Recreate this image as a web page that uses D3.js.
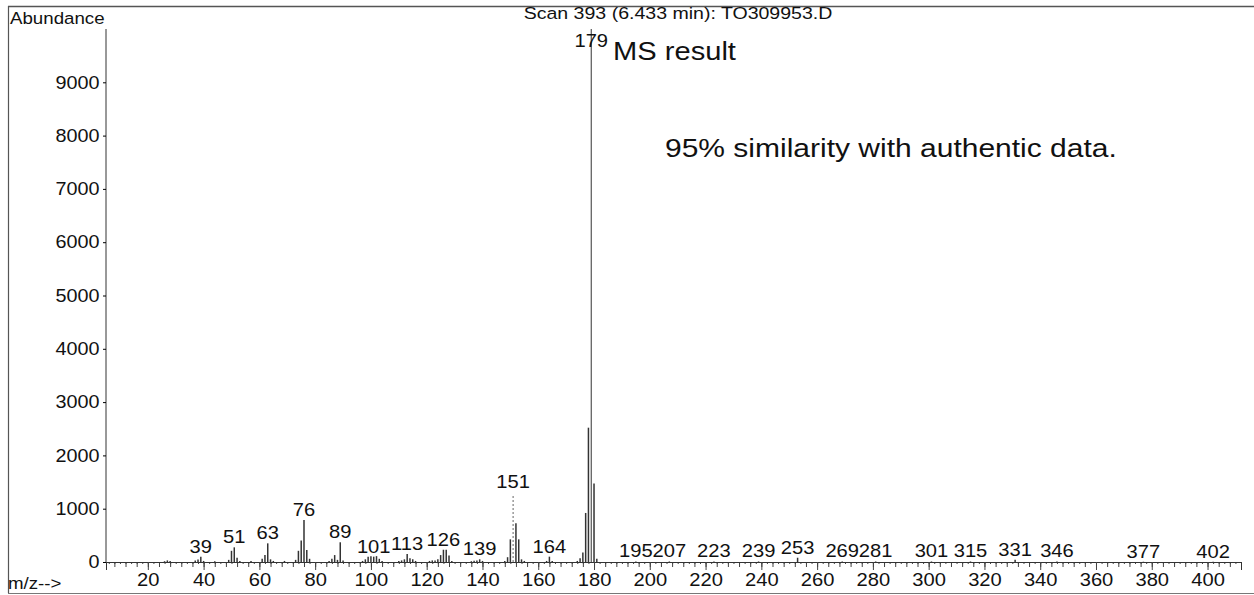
<!DOCTYPE html>
<html>
<head>
<meta charset="utf-8">
<script src="https://cdn.jsdelivr.net/npm/d3@7"></script>
<style>
  body { margin: 0; background: #fff; }
  svg text { font-family: "Liberation Sans", Arial, Helvetica, sans-serif; fill: #111; }
</style>
</head>
<body>
<div id="chart"></div>
<script>

// m/z values and their abundance
var mzValues = [26, 27, 28, 37, 38, 39, 40, 44, 49, 50, 51, 52, 53, 57, 61, 62, 63, 64, 65, 69,
    73, 74, 75, 76, 77, 78, 85, 86, 87, 88, 89, 90, 97, 98, 99, 100, 101, 102, 103, 104,
    110, 111, 112, 113, 114, 115, 116, 121, 122, 123, 124, 125, 126, 127, 128, 129,
    136, 137, 138, 139, 140, 148, 149, 150, 151, 152, 153, 154, 155, 163, 164, 165,
    174, 175, 176, 177, 178, 179, 180, 181,
    195, 207, 223, 239, 253, 269, 281, 301, 315, 331, 346, 377, 402];
var abundance = [15, 30, 20, 30, 45, 100, 20, 15, 40, 210, 275, 80, 20, 20, 60, 130, 350, 50, 20, 20,
    40, 210, 405, 790, 225, 60, 20, 60, 130, 40, 370, 30, 20, 50, 100, 110, 100, 110, 60, 20,
    20, 30, 50, 150, 70, 50, 20, 20, 30, 30, 50, 130, 230, 230, 120, 20,
    15, 25, 30, 50, 20, 20, 90, 425, 1260, 725, 425, 50, 20, 20, 100, 20,
    20, 70, 180, 920, 2520, 10000, 1475, 60,
    10, 10, 10, 10, 80, 10, 10, 10, 10, 40, 10, 5, 5];

var labelledPeaks = [39, 51, 63, 76, 89, 101, 113, 126, 139, 151, 164, 179,
    195, 207, 223, 239, 253, 269, 281, 301, 315, 331, 346, 377, 402];

var yTicks = [0, 1000, 2000, 3000, 4000, 5000, 6000, 7000, 8000, 9000];
var xTicks = [20, 40, 60, 80, 100, 120, 140, 160, 180, 200, 220, 240, 260, 280, 300, 320, 340, 360, 380, 400];

var title = 'Scan 393 (6.433 min): TO309953.D';
var note1 = 'MS result';
var note2 = '95% similarity with authentic data.';

var W = 1254, H = 595;

var svg = d3.select('#chart').append('svg')
    .attr('width', W)
    .attr('height', H);

var x = d3.scaleLinear().domain([5, 412]).range([106, 1241]);
var y = d3.scaleLinear().domain([0, 10000]).range([562, 29]);

// the scanned printout has slightly wide lettering
function putText(px, py, sx, size, str, anchor) {
    return svg.append('text')
        .attr('transform', 'translate(' + px + ',' + py + ') scale(' + sx + ',1)')
        .attr('text-anchor', anchor || 'start')
        .style('font-size', size + 'px')
        .text(str);
}

// frame (scan has no right edge)
svg.append('line').attr('x1', 8).attr('x2', W).attr('y1', 6.5).attr('y2', 6.5)
    .attr('stroke', '#555').attr('stroke-width', 1.5);
svg.append('line').attr('x1', 8.5).attr('x2', 8.5).attr('y1', 6).attr('y2', 593)
    .attr('stroke', '#555').attr('stroke-width', 1.2);
svg.append('line').attr('x1', 8).attr('x2', W).attr('y1', 593.5).attr('y2', 593.5)
    .attr('stroke', '#777').attr('stroke-width', 1.2);

// y axis
var yAxis = svg.append('g')
    .attr('transform', 'translate(106,0)')
    .call(d3.axisLeft(y).tickValues(yTicks).tickSize(3).tickPadding(3).tickFormat(d3.format('d')));
yAxis.select('.domain').attr('d', 'M0,' + y(10000) + 'V' + y(0)).attr('stroke', '#333');
yAxis.selectAll('text').style('font-size', '18px').attr('transform', 'scale(1.1,1)');

// x axis - minor ticks every 2 and 4, labelled every 20
var xAxisG = svg.append('g').attr('transform', 'translate(0,562)');
xAxisG.call(d3.axisBottom(x).tickValues(d3.range(6, 412, 2)).tickSize(2).tickFormat(''));
xAxisG.append('g').call(d3.axisBottom(x).tickValues(d3.range(8, 412, 4)).tickSize(5).tickFormat(''));
var major = xAxisG.append('g').call(d3.axisBottom(x).tickValues(xTicks).tickSize(8).tickPadding(3));
xAxisG.selectAll('.domain').attr('stroke', '#333');
xAxisG.selectAll('line').attr('stroke', '#444');
major.selectAll('text').style('font-size', '18px').attr('transform', 'scale(1.12,1)');

// peaks
var peaks = mzValues.map((m, i) => ({ mz: m, v: abundance[i] }));

svg.append('g').selectAll('line.peak')
    .data(peaks)
    .enter().append('line')
    .attr('class', 'peak')
    .attr('x1', d => x(d.mz)).attr('x2', d => x(d.mz))
    .attr('y1', y(0)).attr('y2', d => y(d.v))
    .attr('stroke', d => d.mz === 151 ? '#999' : '#333')
    .attr('stroke-width', d => d.mz === 179 ? 1 : 1.5)
    .attr('stroke-dasharray', d => d.mz === 151 ? '2,2' : null);

// peak labels
svg.append('g').selectAll('text.plabel')
    .data(peaks.filter(d => labelledPeaks.indexOf(d.mz) >= 0))
    .enter().append('text')
    .attr('class', 'plabel')
    .attr('transform', d => {
        let ty = d.mz === 151 ? y(d.v) - 7 : Math.max(y(d.v) - 4, 47);
        return 'translate(' + x(d.mz) + ',' + ty + ') scale(1.12,1)';
    })
    .attr('text-anchor', 'middle')
    .style('font-size', '18px')
    .text(d => d.mz);

putText(10, 24, 1.1, 17, 'Abundance');
putText(8, 589, 1.1, 17, 'm/z-->');
putText(678, 19, 1.15, 17, title, 'middle');
putText(613, 60, 1.12, 26, note1);
putText(665, 157, 1.2, 25, note2);

</script>
</body>
</html>
